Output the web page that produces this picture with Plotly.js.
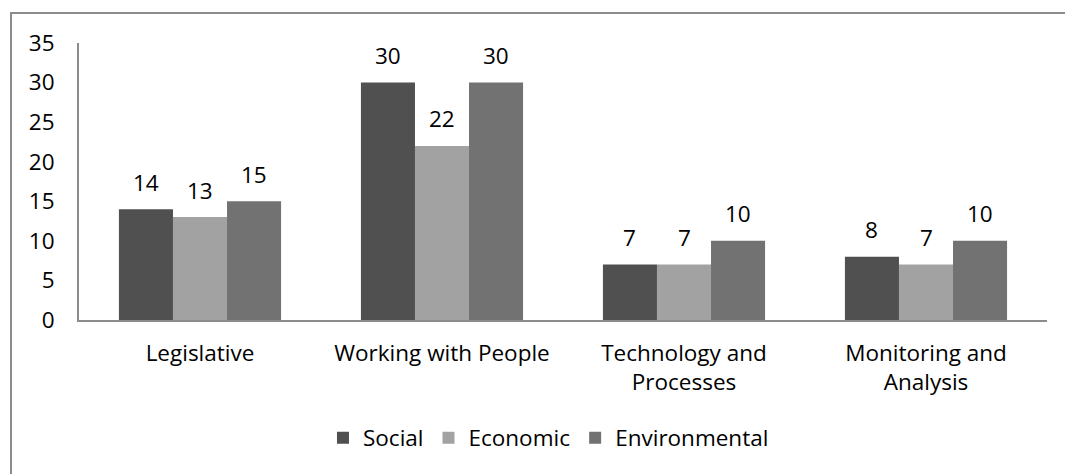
<!DOCTYPE html>
<html>
<head>
<meta charset="utf-8">
<script src="https://cdn.plot.ly/plotly-3.0.1.min.js"></script>
<style>
html,body{margin:0;padding:0;background:#fff;overflow:hidden;}
#frame{position:absolute;left:10px;top:12px;width:1100px;height:500px;border-left:2px solid #8c8c8c;border-top:2px solid #8c8c8c;pointer-events:none;}
#chart{position:absolute;left:0;top:0;width:1065px;height:474px;}
</style>
</head>
<body>
<div id="frame"></div>
<div id="chart"></div>
<script>
const categories = ["Legislative", "Working with People", "Technology and<br>Processes", "Monitoring and<br>Analysis"];
const seriesNames = ["Social", "Economic", "Environmental"];
const social = [14, 30, 7, 8];
const economic = [13, 22, 7, 7];
const environmental = [15, 30, 10, 10];
const yTicks = [0, 5, 10, 15, 20, 25, 30, 35];

const font = {family: "'Open Sans', sans-serif", size: 22.5, color: "#000"};
const colors = ["#505050", "#a2a2a2", "#727272"];
const allVals = [social, economic, environmental];

const W = 1065, H = 474;
const margin = {l: 79, r: 18, t: 43, b: 154};
const bargap = 0.33;

const data = allVals.map((vals, i) => ({
  type: "bar", name: seriesNames[i], x: categories, y: vals,
  marker: {color: colors[i], line: {width: 0}},
  hoverinfo: "skip"
}));

// value labels, placed via axis coordinates, offset horizontally to each bar in the group
const catPx = (W - margin.l - margin.r) / categories.length;
const barPx = catPx * (1 - bargap) / allVals.length;
const annotations = [];
allVals.forEach((vals, i) => {
  vals.forEach((v, j) => {
    annotations.push({
      x: categories[j], y: v, xref: "x", yref: "y",
      text: String(v), showarrow: false, font: font,
      xshift: (i - (allVals.length - 1) / 2) * barPx,
      yanchor: "middle", yshift: 27
    });
  });
});

const layout = {
  width: W, height: H,
  margin: margin,
  paper_bgcolor: "rgba(0,0,0,0)", plot_bgcolor: "rgba(0,0,0,0)",
  font: font,
  barmode: "group", bargap: bargap, bargroupgap: 0,
  showlegend: true,
  legend: {orientation: "h", x: 0.485, xanchor: "center", y: -0.426, yanchor: "middle",
           font: font, itemwidth: 30, tracegroupgap: 0},
  annotations: annotations,
  xaxis: {showline: true, linecolor: "#8c8c8c", linewidth: 2, ticks: "outside", ticklen: 12,
          tickcolor: "rgba(0,0,0,0)", showgrid: false, zeroline: false, tickfont: font, fixedrange: true},
  yaxis: {range: [0, 35], tickvals: yTicks, showline: true, linecolor: "#8c8c8c", linewidth: 2,
          ticks: "outside", ticklen: 18, tickcolor: "rgba(0,0,0,0)", showgrid: false, zeroline: false,
          tickfont: font, fixedrange: true}
};

Plotly.newPlot("chart", data, layout, {displayModeBar: false, staticPlot: true});
</script>
</body>
</html>
